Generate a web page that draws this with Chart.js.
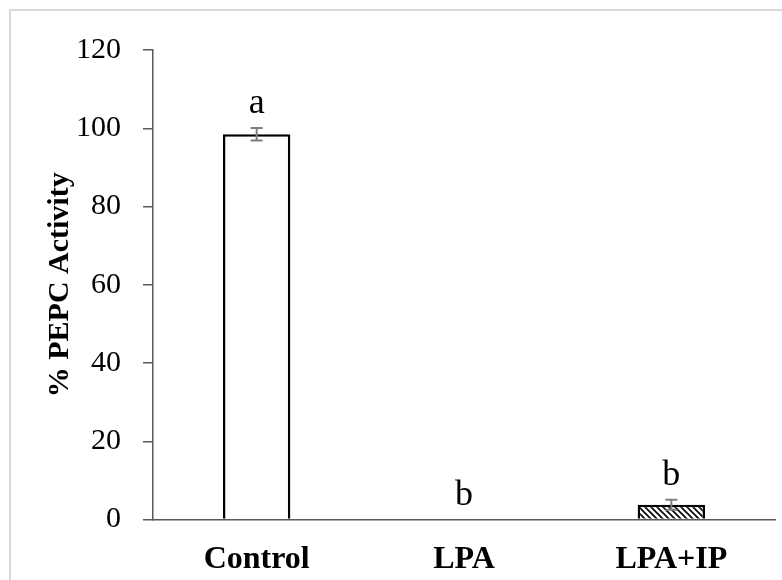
<!DOCTYPE html>
<html>
<head>
<meta charset="utf-8">
<script src="https://cdn.jsdelivr.net/npm/chart.js@4.4.1/dist/chart.umd.min.js"></script>
<style>
    html, body { margin: 0; padding: 0; background: #fff; }
    #wrap { position: relative; width: 782px; height: 580px; overflow: hidden; }
    #frame {
        position: absolute; left: 9px; top: 9px; width: 900px; height: 700px;
        border-top: 2px solid #d9d9d9; border-left: 2px solid #d9d9d9;
    }
    canvas { position: absolute; left: 0; top: 0; }
</style>
</head>
<body>
<div id="wrap">
    <div id="frame"></div>
    <canvas id="pepc-chart" width="782" height="600"></canvas>
</div>
<script>
const categories = ["Control", "LPA", "LPA+IP"];
const activity = [98.5, 0, 3.8];
const activityErr = [1.6, 0, 1.3];
const letters = ["a", "b", "b"];
const yTicks = [0, 20, 40, 60, 80, 100, 120];

function hatchPattern() {
    const c = document.createElement("canvas");
    c.width = 6;
    c.height = 6;
    const g = c.getContext("2d");
    g.fillStyle = "#fff";
    g.fillRect(0, 0, 6, 6);
    g.strokeStyle = "#000";
    g.lineWidth = 1.6;
    g.beginPath();
    g.moveTo(0, 0); g.lineTo(6, 6);
    g.moveTo(-3, 3); g.lineTo(3, 9);
    g.moveTo(3, -3); g.lineTo(9, 3);
    g.stroke();
    return document.getElementById("pepc-chart").getContext("2d").createPattern(c, "repeat");
}

const errorBars = {
    id: "errorBars",
    afterDatasetsDraw(chart) {
        const ctx = chart.ctx;
        const y = chart.scales.y;
        const meta = chart.getDatasetMeta(0);
        ctx.save();
        ctx.strokeStyle = "#7f7f7f";
        ctx.lineWidth = 2;
        meta.data.forEach((bar, i) => {
            const err = activityErr[i];
            if (!err) return;
            const top = y.getPixelForValue(activity[i] + err);
            const bottom = y.getPixelForValue(activity[i] - err);
            ctx.beginPath();
            ctx.moveTo(bar.x, top); ctx.lineTo(bar.x, bottom);
            ctx.moveTo(bar.x - 6, top); ctx.lineTo(bar.x + 6, top);
            ctx.moveTo(bar.x - 6, bottom); ctx.lineTo(bar.x + 6, bottom);
            ctx.stroke();
        });
        ctx.fillStyle = "#000";
        ctx.font = "36px 'Liberation Serif'";
        ctx.textAlign = "center";
        ctx.textBaseline = "alphabetic";
        meta.data.forEach((bar, i) => {
            const top = y.getPixelForValue(activity[i] + activityErr[i]);
            ctx.fillText(letters[i], bar.x, top - 15);
        });
        ctx.restore();
    },
};

function initChart() {
    const ctx = document.getElementById("pepc-chart");
    new Chart(ctx, {
        type: "bar",
        data: {
            labels: categories,
            datasets: [
                {
                    label: "% PEPC Activity",
                    data: activity,
                    backgroundColor: ["#fff", "#fff", hatchPattern()],
                    borderColor: "#000",
                    borderWidth: 2.5,
                    borderSkipped: "bottom",
                    categoryPercentage: 1,
                    barPercentage: 0.325,
                },
            ],
        },
        options: {
            responsive: false,
            animation: false,
            layout: { padding: { left: 42, right: 7, top: 50, bottom: 0 } },
            plugins: {
                legend: { display: false },
                tooltip: { enabled: false },
            },
            scales: {
                x: {
                    grid: { display: false, drawTicks: false },
                    border: { color: "#595959", width: 1.5 },
                    ticks: {
                        color: "#000",
                        padding: 21,
                        font: { family: "'Liberation Serif'", size: 32, weight: "bold" },
                    },
                },
                y: {
                    min: 0,
                    max: 120,
                    afterBuildTicks: (axis) => {
                        axis.ticks = yTicks.map((v) => ({ value: v }));
                    },
                    afterFit: (axis) => {
                        axis.width = 111;
                    },
                    grid: { drawOnChartArea: false, tickLength: 10, color: "#595959", lineWidth: 1.5 },
                    border: { color: "#595959", width: 1.5 },
                    ticks: {
                        color: "#000",
                        padding: 22,
                        font: { family: "'Liberation Serif'", size: 30 },
                    },
                    title: {
                        display: true,
                        text: "% PEPC Activity",
                        color: "#000",
                        padding: { top: 0, bottom: 0 },
                        font: { family: "'Liberation Serif'", size: 30, weight: "bold" },
                    },
                },
            },
        },
        plugins: [errorBars],
    });
}

document.addEventListener("DOMContentLoaded", () => {
    initChart();
});
</script>
</body>
</html>
